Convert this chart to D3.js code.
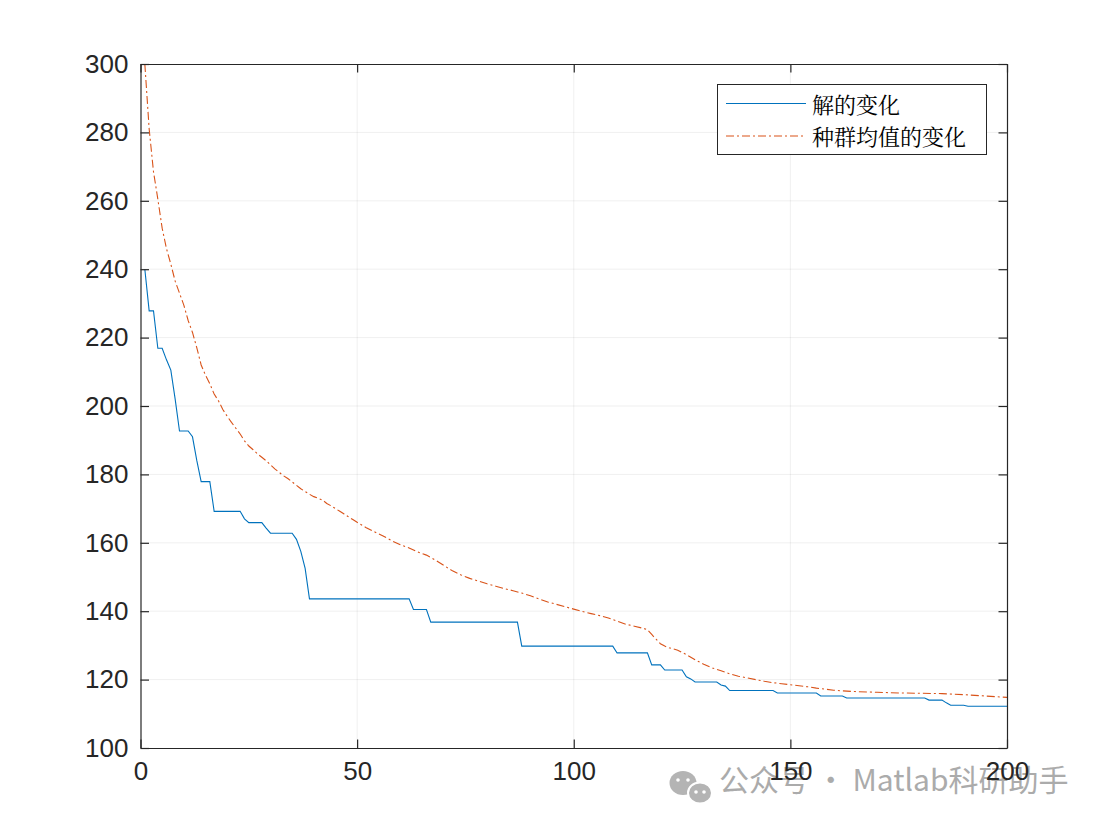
<!DOCTYPE html>
<html>
<head>
<meta charset="utf-8">
<script src="https://cdn.jsdelivr.net/npm/d3@7"></script>
<style>
  body { margin: 0; background: #fff; }
  svg { display: block; }
  .tick text { font-family: "Liberation Sans", Arial, sans-serif; fill: #262626; }
</style>
</head>
<body>
<div id="chart"></div>
<script>
// best solution per generation (step changes only), [generation, value]
const bestPoints = [
  [1, 240], [2, 227.8], [3, 227.8], [4, 216.9], [5, 216.9], [6, 213.5], [7, 210.5], [8, 202], [9, 192.7],
  [11, 192.7], [12, 191], [13, 184], [14, 177.9], [16, 177.9], [17, 169.2], [23, 169.2], [24, 167],
  [25, 165.9], [28, 165.9], [29, 164.3], [30, 162.8], [35, 162.8], [36, 161], [37, 157.5], [38, 152.5],
  [39, 143.6], [62, 143.6], [63, 140.5], [66, 140.5], [67, 136.8], [87, 136.8], [88, 129.8], [109, 129.8],
  [110, 127.8], [117, 127.8], [118, 124.3], [120, 124.3], [121, 122.8], [125, 122.8], [126, 120.8],
  [127, 120.2], [128, 119.3], [133, 119.3], [134, 118.4], [135, 118.1], [136, 116.8], [146, 116.8],
  [147, 116.1], [156, 116.1], [157, 115.2], [162, 115.2], [163, 114.6], [181, 114.6], [182, 114.0],
  [185, 114.0], [186, 113.2], [187, 112.5], [190, 112.5], [191, 112.2], [200, 112.2]
];

// population mean per generation, [generation, value]
const meanPoints = [
  [1, 300], [2, 281], [3, 268.5], [4, 260.5], [5, 252], [6, 246], [7, 241.5], [8, 236.5], [9, 233],
  [10, 229.5], [11, 225], [12, 221.5], [13, 217], [14, 212], [15, 209], [16, 206.5], [17, 203.5],
  [18, 201.5], [19, 199], [20, 197], [21, 195.2], [22, 193.5], [23, 191.8], [24, 189.8], [25, 188.3],
  [26, 187.2], [27, 186], [28, 185], [29, 184], [30, 182.8], [31, 181.6], [32, 180.6], [33, 179.6],
  [34, 178.8], [35, 177.8], [36, 176.8], [37, 175.8], [38, 175], [39, 174.2], [40, 173.5], [41, 173],
  [42, 172.5], [43, 171.5], [44, 170.8], [45, 170], [46, 169.2], [47, 168.4], [48, 167.6], [49, 166.8],
  [50, 166], [52, 164.5], [54, 163.2], [56, 162], [58, 160.6], [60, 159.4], [62, 158.5], [64, 157.3],
  [66, 156.4], [68, 155], [70, 153.4], [72, 151.8], [74, 150.6], [76, 149.6], [78, 148.8], [80, 148],
  [82, 147.3], [84, 146.6], [86, 146], [88, 145.3], [90, 144.5], [92, 143.6], [94, 142.7], [96, 142],
  [98, 141.3], [100, 140.6], [102, 139.9], [104, 139.3], [106, 138.7], [108, 138], [110, 137.1],
  [112, 136.2], [114, 135.6], [116, 135], [117, 134.6], [118, 133.2], [119, 131.8], [120, 130.5],
  [121, 129.8], [122, 129.3], [124, 128.6], [126, 127.3], [128, 125.8], [130, 124.5], [132, 123.4],
  [134, 122.6], [136, 121.7], [138, 121], [140, 120.5], [142, 120], [144, 119.5], [146, 119.1],
  [148, 118.8], [150, 118.5], [152, 118.2], [154, 117.9], [156, 117.5], [158, 117.2], [160, 116.9],
  [162, 116.7], [165, 116.5], [170, 116.3], [175, 116.1], [180, 116], [185, 115.9], [190, 115.6],
  [195, 115.2], [200, 114.8]
];

const xTicks = [0, 50, 100, 150, 200];
const yTicks = [100, 120, 140, 160, 180, 200, 220, 240, 260, 280, 300];
const legendLabels = ['解的变化', '种群均值的变化'];

const svgWidth = 1109;
const svgHeight = 832;
const plot = { left: 140.5, right: 1007, top: 64, bottom: 748 };

const color = {
    best: '#0072BD',
    mean: '#D95319',
    axis: '#262626'
};

const svg = d3.select('#chart')
    .append('svg')
    .attr('width', svgWidth)
    .attr('height', svgHeight);

svg.append('rect')
    .attr('width', svgWidth)
    .attr('height', svgHeight)
    .attr('fill', '#fff');

const x = d3.scaleLinear().domain([0, 200]).range([plot.left, plot.right]);
const y = d3.scaleLinear().domain([100, 300]).range([plot.bottom, plot.top]);

// watermark (under the tick labels)
const wm = svg.append('g').attr('class', 'watermark');
wm.append('ellipse').attr('cx', 683).attr('cy', 783).attr('rx', 13.5).attr('ry', 12).attr('fill', '#b4b4b4');
wm.append('ellipse').attr('cx', 700).attr('cy', 793).attr('rx', 12).attr('ry', 10.5)
    .attr('fill', '#b4b4b4').attr('stroke', '#fff').attr('stroke-width', 2);
[[678, 780], [688, 780], [696, 792], [704, 792]].forEach(p => {
    wm.append('circle').attr('cx', p[0]).attr('cy', p[1]).attr('r', 1.8).attr('fill', '#fff');
});
wm.append('text')
    .attr('x', 719)
    .attr('y', 791)
    .style('font-family', '"Noto Sans CJK SC", "Noto Sans", sans-serif')
    .style('font-size', '30px')
    .style('fill', '#ababab')
    .text('公众号 · Matlab科研助手');

// grid
const grid = svg.append('g').attr('class', 'grid');
grid.selectAll('.gx').data(xTicks.slice(1, -1)).enter()
    .append('line')
    .attr('x1', d => x(d)).attr('x2', d => x(d))
    .attr('y1', plot.top).attr('y2', plot.bottom)
    .attr('stroke', color.axis).attr('stroke-opacity', 0.07);
grid.selectAll('.gy').data(yTicks.slice(1, -1)).enter()
    .append('line')
    .attr('y1', d => y(d)).attr('y2', d => y(d))
    .attr('x1', plot.left).attr('x2', plot.right)
    .attr('stroke', color.axis).attr('stroke-opacity', 0.07);

// clip
svg.append('clipPath').attr('id', 'clip')
    .append('rect')
    .attr('x', plot.left).attr('y', plot.top - 1)
    .attr('width', plot.right - plot.left).attr('height', plot.bottom - plot.top + 1);

const line = d3.line()
    .x(d => x(d[0]))
    .y(d => y(d[1]));

const lines = svg.append('g').attr('clip-path', 'url(#clip)');

lines.append('path')
    .datum(meanPoints)
    .attr('d', line)
    .attr('fill', 'none')
    .attr('stroke', color.mean)
    .attr('stroke-width', 1.1)
    .attr('stroke-dasharray', '8,3,2,3');

lines.append('path')
    .datum(bestPoints)
    .attr('d', line)
    .attr('fill', 'none')
    .attr('stroke', color.best)
    .attr('stroke-width', 1.1);

// axes
const styleAxis = g => {
    g.select('.domain').attr('stroke', color.axis).attr('stroke-width', 1.2);
    g.selectAll('.tick line').attr('stroke', color.axis).attr('stroke-width', 1.2);
    g.selectAll('.tick text').style('font-size', '26px');
};

svg.append('g')
    .attr('transform', `translate(${plot.left}, 0)`)
    .call(d3.axisLeft(y).tickValues(yTicks).tickSizeInner(-8.5).tickSizeOuter(0).tickPadding(12))
    .call(styleAxis);

svg.append('g')
    .attr('transform', `translate(0, ${plot.bottom})`)
    .call(d3.axisBottom(x).tickValues(xTicks).tickSizeInner(-8.5).tickSizeOuter(0).tickPadding(14))
    .call(styleAxis);

svg.append('g')
    .attr('transform', `translate(${plot.right}, 0)`)
    .call(d3.axisRight(y).tickValues(yTicks).tickSizeInner(-8.5).tickSizeOuter(0).tickFormat(''))
    .call(styleAxis);

svg.append('g')
    .attr('transform', `translate(0, ${plot.top})`)
    .call(d3.axisTop(x).tickValues(xTicks).tickSizeInner(-8.5).tickSizeOuter(0).tickFormat(''))
    .call(styleAxis);

// legend
const legend = svg.append('g').attr('class', 'legend');
legend.append('rect')
    .attr('x', 717.5).attr('y', 84.5)
    .attr('width', 269).attr('height', 70)
    .attr('fill', '#fff')
    .attr('stroke', color.axis)
    .attr('stroke-width', 1);

const legendRows = legend.selectAll('.row')
    .data(legendLabels).enter()
    .append('g')
    .attr('class', 'row')
    .attr('transform', (d, i) => `translate(726, ${103.5 + i * 32.5})`);

legendRows.append('line')
    .attr('x1', 0).attr('x2', 80)
    .attr('stroke', (d, i) => i === 0 ? color.best : color.mean)
    .attr('stroke-width', 1.1)
    .attr('stroke-dasharray', (d, i) => i === 0 ? null : '8,3,2,3');

legendRows.append('text')
    .attr('x', 86)
    .attr('y', 9)
    .style('font-family', '"Noto Serif CJK SC", "Noto Sans CJK SC", serif')
    .style('font-size', '22px')
    .style('fill', '#000')
    .text(d => d);
</script>
</body>
</html>
